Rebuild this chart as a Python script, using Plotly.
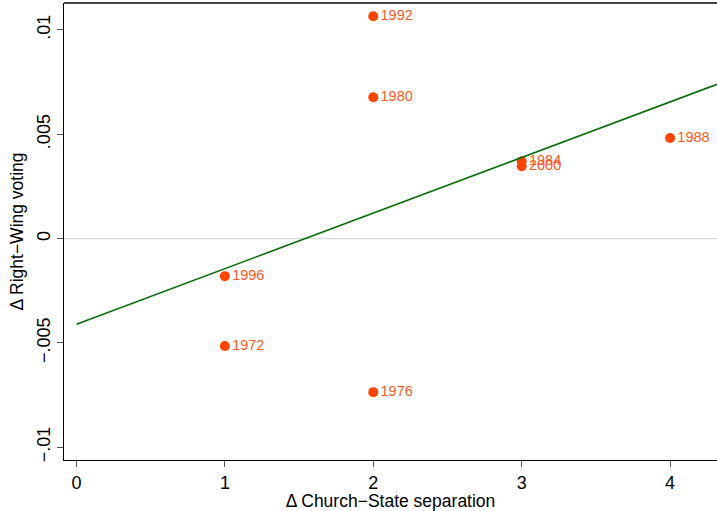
import numpy as np
import plotly.graph_objects as go

years = ["1972", "1976", "1980", "1984", "1988", "1992", "1996", "2000"]
church_state = [1, 2, 2, 3, 4, 2, 1, 3]
right_wing = [-0.00515, -0.00736, 0.00678, 0.00371, 0.00482, 0.01066, -0.0018, 0.00347]

x_range = [-0.084, 4.316]
y_range = [-0.010613, 0.011294]

slope, intercept = np.polyfit(church_state, right_wing, 1)
fit_x = [0, x_range[1]]
fit_y = [intercept + slope * v for v in fit_x]

FONT = "Liberation Sans, Arial, sans-serif"

fig = go.Figure()
fig.add_trace(go.Scatter(
    x=x_range, y=[0, 0], mode="lines",
    line=dict(color="#dcdcdc", width=1.2), hoverinfo="skip", showlegend=False,
))
fig.add_trace(go.Scatter(
    x=church_state, y=right_wing, mode="markers+text",
    text=years, textposition="middle right",
    marker=dict(color="#ff4500", size=10),
    textfont=dict(color="#ff5a26", size=14.5, family=FONT),
    showlegend=False,
))
fig.add_trace(go.Scatter(
    x=fit_x, y=fit_y, mode="lines",
    line=dict(color="#0a6b0a", width=1.6), showlegend=False,
))

fig.update_layout(
    width=717, height=511,
    margin=dict(l=64, r=0, t=3, b=51),
    paper_bgcolor="white", plot_bgcolor="white",
    font=dict(family=FONT, color="black", size=17),
    xaxis=dict(
        range=x_range, tickvals=[0, 1, 2, 3, 4], ticktext=["0", "1", "2", "3", "4"],
        showgrid=False, zeroline=False, showline=True, linecolor="black", linewidth=1,
        mirror=False, ticks="outside", ticklen=6, tickcolor="#555", tickwidth=1,
        title=dict(text="Δ Church−State separation", standoff=2, font=dict(size=17.5)),
        tickfont=dict(size=18),
    ),
    yaxis=dict(
        range=y_range, tickvals=[-0.01, -0.005, 0, 0.005, 0.01],
        ticktext=["−.01", "−.005", "0", ".005", ".01"], tickangle=-90,
        showgrid=False, zeroline=False, showline=True, linecolor="black", linewidth=1,
        ticks="outside", ticklen=6, tickcolor="#555", tickwidth=1,
        title=dict(text="Δ Right−Wing voting", standoff=5, font=dict(size=17.5)),
        tickfont=dict(size=18),
    ),
    shapes=[dict(type="line", xref="paper", yref="paper", x0=0, x1=1, y0=1, y1=1,
                 line=dict(color="#444", width=2))],
)

fig.write_html(
    "out.html",
    config={"displayModeBar": False},
    post_script="document.body.style.margin='0';document.body.style.overflow='hidden';",
)
